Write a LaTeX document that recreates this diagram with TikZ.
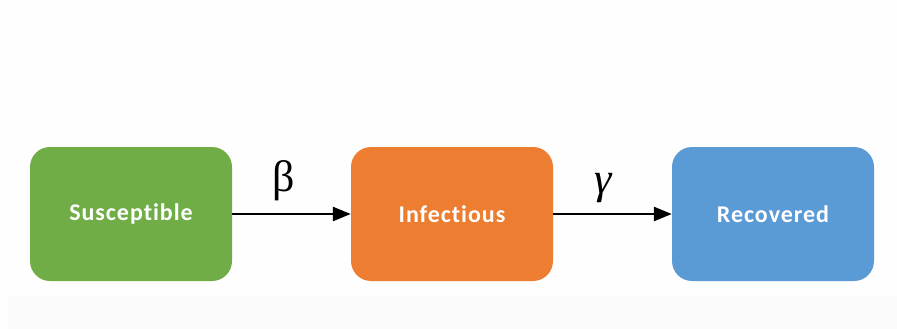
\documentclass[tikz,border=0pt]{standalone}
\usepackage{fontspec}
\setmainfont{Carlito}
\newfontfamily\boxfont[LetterSpace=4,Ligatures=NoCommon]{Carlito}
\newfontfamily\greekfont{Liberation Serif}
\usetikzlibrary{arrows.meta}
\definecolor{sgreen}{HTML}{70AD47}
\definecolor{iorange}{HTML}{ED7D31}
\definecolor{rblue}{HTML}{5B9BD5}
\definecolor{paper}{HTML}{FEFEFE}
\definecolor{band}{HTML}{FAFAFA}
\begin{document}
\begin{tikzpicture}[x=1pt,y=-1pt,
  state/.style={rounded corners=20pt, minimum width=202pt, minimum height=134pt,
    inner sep=0pt, text=white, font=\boxfont\bfseries\fontsize{24}{28}\selectfont},
  flow/.style={line width=2.6pt, -{Triangle[length=18pt,width=14pt]}},
  rate/.style={inner sep=0pt, font=\greekfont\fontsize{44}{48}\selectfont}]
  % canvas and faint lower band
  \fill[paper] (0,0) rectangle (897,329);
  \fill[band] (8,296) rectangle (897,329);
  \useasboundingbox (0,0) rectangle (897,329);
  % compartments
  \node[state, fill=sgreen] (S) at (131,214) {Susceptible};
  \node[state, fill=iorange] (I) at (452,214) {Infectious};
  \node[state, fill=rblue] (R) at (773,214) {Recovered};
  % transitions
  \draw[flow] (S) -- (I) node[rate, midway, above=12pt, xshift=-8pt] {β};
  \draw[flow] (I) -- (R) node[rate, midway, above=10pt, xshift=-9pt] {\itshape γ};
\end{tikzpicture}
\end{document}
